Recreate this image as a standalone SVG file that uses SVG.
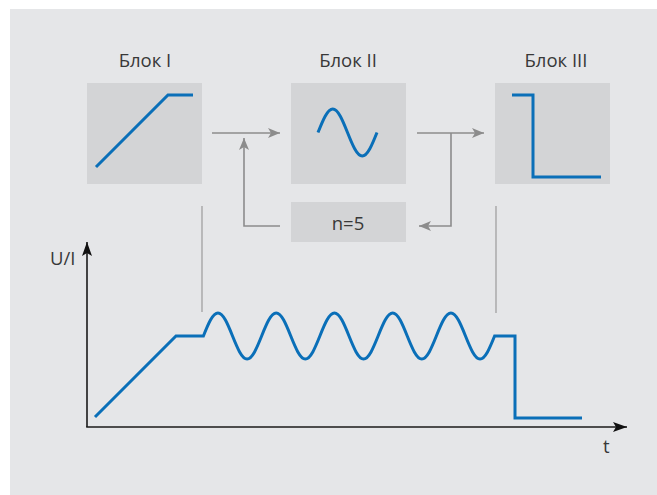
<svg xmlns="http://www.w3.org/2000/svg" width="657" height="495" viewBox="0 0 657 495">
<style>
.lbl{font-family:"Open Sans","Liberation Sans",sans-serif;font-size:18.5px;fill:#383838;}
.box{fill:#d3d4d6;}
.sig{fill:none;stroke:#0a6fb8;stroke-width:3;stroke-linejoin:miter;}
.con{fill:none;stroke:#8c8c8c;stroke-width:1.6;}
.guide{fill:none;stroke:#9a9a9a;stroke-width:1.2;}
.axis{fill:none;stroke:#1a1a1a;stroke-width:1.6;}
</style>
<defs>
<marker id="ah" viewBox="0 0 12 10" refX="12" refY="5" markerWidth="12" markerHeight="10" markerUnits="userSpaceOnUse" orient="auto">
<path d="M0,0 L12,5 L0,10 L3,5 Z" fill="#8c8c8c"/>
</marker>
<marker id="axh" viewBox="0 0 14 10" refX="14" refY="5" markerWidth="14" markerHeight="10" markerUnits="userSpaceOnUse" orient="auto">
<path d="M0,0 L14,5 L0,10 L3,5 Z" fill="#111"/>
</marker>
</defs>
<rect x="0" y="0" width="657" height="495" fill="#ffffff"/>
<rect x="10" y="9" width="647" height="486" fill="#e5e6e8"/>

<g id="block1">
<text class="lbl" x="145" y="67" text-anchor="middle">Блок I</text>
<rect class="box" x="87" y="83" width="115" height="101"/>
<polyline class="sig" points="96,167 168,95 193,95"/>
</g>
<g id="block2">
<text class="lbl" x="348" y="67" text-anchor="middle">Блок II</text>
<rect class="box" x="291" y="83" width="115" height="101"/>
<path class="sig" d="M318,132.5 c4.81,-12.04 9.41,-23.5 14.75,-23.5 c5.34,0 9.94,11.46 14.75,23.5 c4.81,12.04 9.41,23.5 14.75,23.5 c5.34,0 9.94,-11.46 14.75,-23.5"/>
</g>
<g id="block3">
<text class="lbl" x="556" y="67" text-anchor="middle">Блок III</text>
<rect class="box" x="495" y="83" width="115" height="101"/>
<polyline class="sig" points="512,95 533,95 533,177 601,177"/>
</g>
<g id="counter">
<rect class="box" x="291" y="202" width="115" height="40"/>
<text class="lbl" x="348" y="230" text-anchor="middle">n=5</text>
</g>

<g id="connectors">
<line class="con" x1="212" y1="133" x2="280" y2="133" marker-end="url(#ah)"/>
<line class="con" x1="417" y1="133" x2="484" y2="133" marker-end="url(#ah)"/>
<polyline class="con" points="451,133 451,226 419,226" marker-end="url(#ah)"/>
<polyline class="con" points="280,226 244,226 244,138" marker-end="url(#ah)"/>
<line class="guide" x1="202" y1="206" x2="202" y2="312"/>
<line class="guide" x1="496" y1="206" x2="496" y2="313"/>
</g>

<g id="chart">
<line class="axis" x1="87" y1="427" x2="87" y2="242" marker-end="url(#axh)"/>
<line class="axis" x1="86.2" y1="427" x2="627" y2="427" marker-end="url(#axh)"/>
<text class="lbl" x="50" y="265">U/I</text>
<text class="lbl" x="603" y="453">t</text>
<path class="sig" d="M95,417 L176,336 L203.4,336
c4.748,-11.78 9.291,-23 14.56,-23 c5.269,0 9.812,11.22 14.56,23 c4.748,11.78 9.291,23 14.56,23 c5.269,0 9.812,-11.22 14.56,-23
c4.748,-11.78 9.291,-23 14.56,-23 c5.269,0 9.812,11.22 14.56,23 c4.748,11.78 9.291,23 14.56,23 c5.269,0 9.812,-11.22 14.56,-23
c4.748,-11.78 9.291,-23 14.56,-23 c5.269,0 9.812,11.22 14.56,23 c4.748,11.78 9.291,23 14.56,23 c5.269,0 9.812,-11.22 14.56,-23
c4.748,-11.78 9.291,-23 14.56,-23 c5.269,0 9.812,11.22 14.56,23 c4.748,11.78 9.291,23 14.56,23 c5.269,0 9.812,-11.22 14.56,-23
c4.748,-11.78 9.291,-23 14.56,-23 c5.269,0 9.812,11.22 14.56,23 c4.748,11.78 9.291,23 14.56,23 c5.269,0 9.812,-11.22 14.56,-23
L515,336 L515,418 L582,418"/>
</g>
</svg>
